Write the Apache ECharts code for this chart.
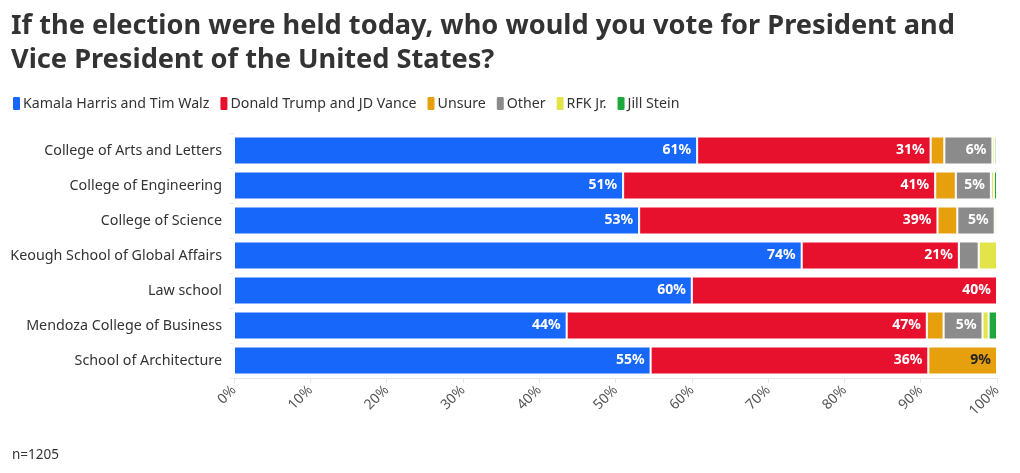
<!DOCTYPE html>
<html>
<head>
<meta charset="utf-8">
<script src="https://cdn.jsdelivr.net/npm/echarts@6/dist/echarts.min.js"></script>
<style>
html,body{margin:0;padding:0;background:#fff;}
#chart{width:1020px;height:473px;}
</style>
</head>
<body>
<div id="chart"></div>
<script>
const categories = [
  "College of Arts and Letters",
  "College of Engineering",
  "College of Science",
  "Keough School of Global Affairs",
  "Law school",
  "Mendoza College of Business",
  "School of Architecture"
];
const seriesNames = ["Kamala Harris and Tim Walz", "Donald Trump and JD Vance", "Unsure", "Other", "RFK Jr.", "Jill Stein"];
const harris = [60.7, 51.0, 53.1, 74.4, 60.0, 43.6, 54.6];
const trump  = [30.6, 40.9, 39.1, 20.6, 40.0, 47.2, 36.4];
const unsure = [1.8, 2.7, 2.6, 0, 0, 2.2, 9.0];
const other  = [6.3, 4.6, 4.9, 2.6, 0, 5.1, 0];
const rfk    = [0.3, 0.4, 0.3, 2.4, 0, 0.8, 0];
const stein  = [0.3, 0.4, 0, 0, 0, 1.1, 0];
const xTicks = [0, 10, 20, 30, 40, 50, 60, 70, 80, 90, 100];

const colors = ["#1767fb", "#e8112d", "#e6a00e", "#8b8b8b", "#e3e34a", "#1ea83c"];
const labelColors = ["#fff", "#fff", "#222", "#fff", "#222", "#fff"];
const allData = [harris, trump, unsure, other, rfk, stein];

const FONT = "'Noto Sans', 'Open Sans', sans-serif";

const chart = echarts.init(document.getElementById('chart'), null, {renderer: 'canvas'});

const series = seriesNames.map((name, i) => ({
  name: name,
  type: 'bar',
  stack: 'total',
  barCategoryGap: '20%',
  data: allData[i].slice().reverse(),
  itemStyle: {color: colors[i], borderColor: '#fff', borderWidth: 1},
  emphasis: {disabled: true},
  label: {
    show: true,
    position: 'insideRight',
    color: labelColors[i],
    fontFamily: FONT,
    fontWeight: 'bold',
    fontSize: 14,
    offset: [-1, 0],
    formatter: p => p.value >= 4.5 ? Math.round(p.value) + '%' : ''
  }
}));

chart.setOption({
  animation: false,
  color: colors,
  title: [{
    text: "If the election were held today, who would you vote for President and\nVice President of the United States?",
    left: 6, top: 4,
    textStyle: {fontFamily: FONT, fontWeight: 'bold', fontSize: 27.2, color: '#333', lineHeight: 34}
  }, {
    text: "n=1205",
    left: 7, top: 443,
    textStyle: {fontFamily: FONT, fontWeight: 'normal', fontSize: 13.5, color: '#333'}
  }],
  legend: {
    left: 6, top: 90,
    itemWidth: 9, itemHeight: 15, itemGap: 9,
    icon: 'roundRect',
    textStyle: {fontFamily: FONT, fontSize: 14.2, color: '#333', padding: [0, 0, 0, -3]},
    selectedMode: false,
    data: seriesNames
  },
  grid: {left: 234, right: 23, top: 133, bottom: 95, containLabel: false},
  xAxis: {
    type: 'value', min: 0, max: 100, interval: 10,
    axisLine: {show: true, lineStyle: {color: '#e6e6e6'}},
    axisTick: {show: true, length: 5, lineStyle: {color: '#e6e6e6'}},
    splitLine: {show: false},
    axisLabel: {
      rotate: 45, color: '#555', fontFamily: FONT, fontSize: 14, margin: 10,
      formatter: v => xTicks.includes(v) ? v + '%' : ''
    }
  },
  yAxis: {
    type: 'category',
    data: categories.slice().reverse(),
    axisLine: {show: false},
    axisTick: {show: true, length: 5, lineStyle: {color: '#eee'}},
    axisLabel: {color: '#333', fontFamily: FONT, fontSize: 14.3, margin: 12}
  },
  series: series
});
</script>
</body>
</html>
